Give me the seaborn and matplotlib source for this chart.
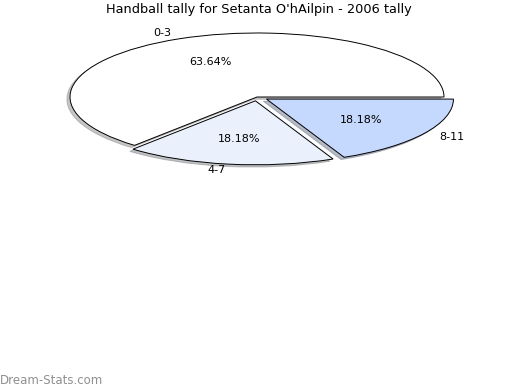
import matplotlib
matplotlib.use("Agg")
from matplotlib import pyplot as plt
import seaborn as sns

sns.set_style("white")
plt.rcParams['font.family'] = ['DejaVu Sans']
plt.rcParams['text.color'] = 'black'

title = "Handball tally for Setanta O'hAilpin - 2006 tally"
labels = ['0-3', '4-7', '8-11']
counts = [7, 2, 2]
colors = ['#ffffff', '#eaf1fd', '#c5d8fd']
explode = [0.0, 0.06, 0.06]

fig = plt.figure(figsize=(5.2, 3.9), dpi=100)
# squashed pie: axes wider than tall, aspect left free
W, H = 520, 390
cx, cy = 257, 390 - 97
rx, ry = 187, 64
ax = fig.add_axes([(cx - rx * 1.3) / W, (cy - ry * 1.5) / H,
                   rx * 2.6 / W, ry * 3.0 / H])

wedges, texts, autotexts = ax.pie(
    counts, labels=labels, colors=colors, explode=explode,
    autopct='%1.2f%%', startangle=0, counterclock=True,
    shadow={'ox': -0.012, 'oy': -0.025, 'shade': 0.45},
    labeldistance=1.1, pctdistance=0.6,
    wedgeprops={'edgecolor': 'black', 'linewidth': 0.7},
    textprops={'fontsize': 8, 'color': 'black'})
ax.set_aspect('auto')
ax.set_xlim(-1.3, 1.3)
ax.set_ylim(-1.5, 1.5)
ax.axis('off')

fig.text(259 / W, 1 - 10 / H, title, ha='center', va='center', fontsize=9.3)
fig.text(0.0, 1 - 380 / H, 'Dream-Stats.com', ha='left', va='center',
         fontsize=8.5, color='#909090')

plt.savefig('out.png', dpi=100)
